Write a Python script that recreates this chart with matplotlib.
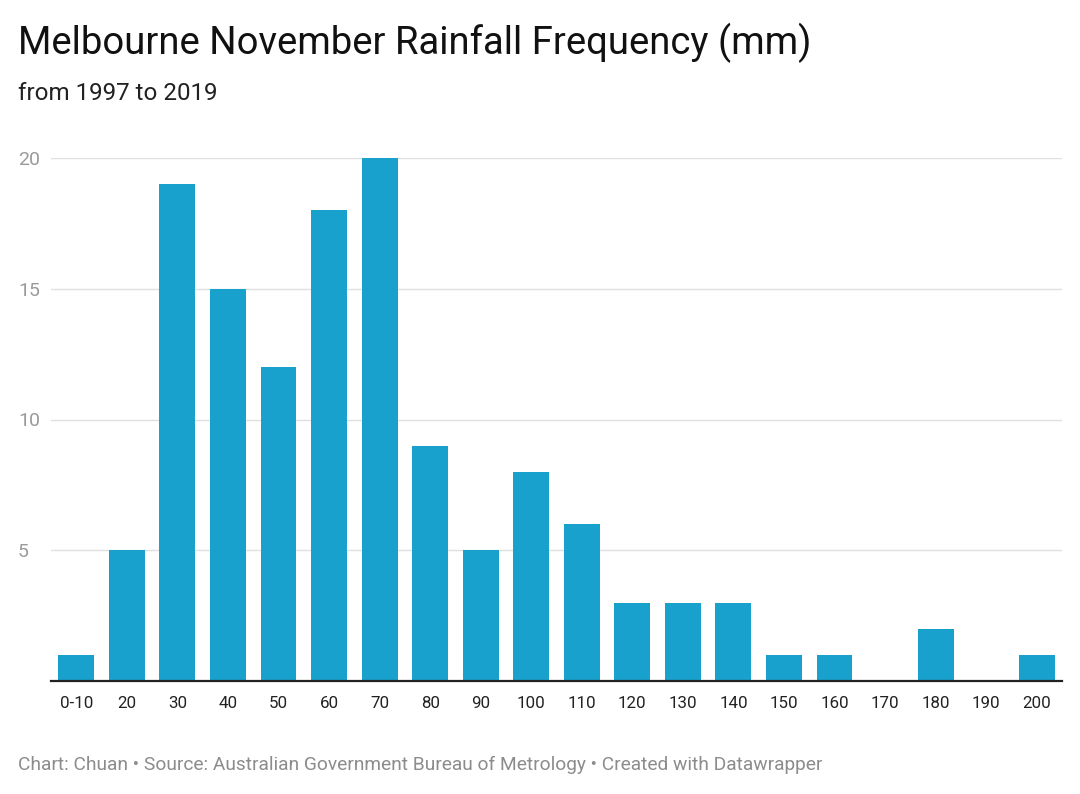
import matplotlib.pyplot as plt
import numpy as np

plt.rcParams['font.family'] = ['Roboto', 'DejaVu Sans']

categories = ['0-10', '20', '30', '40', '50', '60', '70', '80', '90', '100',
              '110', '120', '130', '140', '150', '160', '170', '180', '190', '200']
counts = [1, 5, 19, 15, 12, 18, 20, 9, 5, 8, 6, 3, 3, 3, 1, 1, 0, 2, 0, 1]
yticks = [5, 10, 15, 20]

bar_color = '#18a1cd'

fig = plt.figure(figsize=(10.8, 7.94), dpi=100)
ax = fig.add_axes([51 / 1080, 1 - 681 / 794, (1062 - 51) / 1080, (681 - 158) / 794])

x = np.arange(len(categories))
ax.bar(x, counts, width=0.71, color=bar_color, zorder=3)

ax.set_xlim(-0.5, len(categories) - 0.5)
ax.set_ylim(0, 20)
ax.set_yticks(yticks)
ax.set_xticks(x)
ax.set_xticklabels(categories)

for y in yticks:
    ax.axhline(y, color='#e0e0e0', lw=1, zorder=1)

for s in ['top', 'right', 'left']:
    ax.spines[s].set_visible(False)
ax.spines['bottom'].set_color('#222222')
ax.spines['bottom'].set_linewidth(1.6)
ax.spines['bottom'].set_zorder(4)

ax.tick_params(axis='x', length=0, pad=11, labelsize=12.2, labelcolor='#222222')
ax.tick_params(axis='y', length=0, pad=0, labelsize=14, labelcolor='#9a9a9a')
for lbl in ax.get_yticklabels():
    lbl.set_horizontalalignment('left')
    lbl.set_x(-33 / 1011)

fig.text(18 / 1080, 1 - 43 / 794, 'Melbourne November Rainfall Frequency (mm)',
         fontsize=27.5, color='#111111', va='center', ha='left')
fig.text(18 / 1080, 1 - 94 / 794, 'from 1997 to 2019',
         fontsize=17.4, color='#222222', va='center', ha='left')
fig.text(18 / 1080, 1 - 765 / 794,
         'Chart: Chuan \u2022 Source: Australian Government Bureau of Metrology \u2022 Created with Datawrapper',
         fontsize=13.8, color='#8c8c8c', va='center', ha='left')

fig.savefig('out.png', dpi=100)
plt.close('all')
